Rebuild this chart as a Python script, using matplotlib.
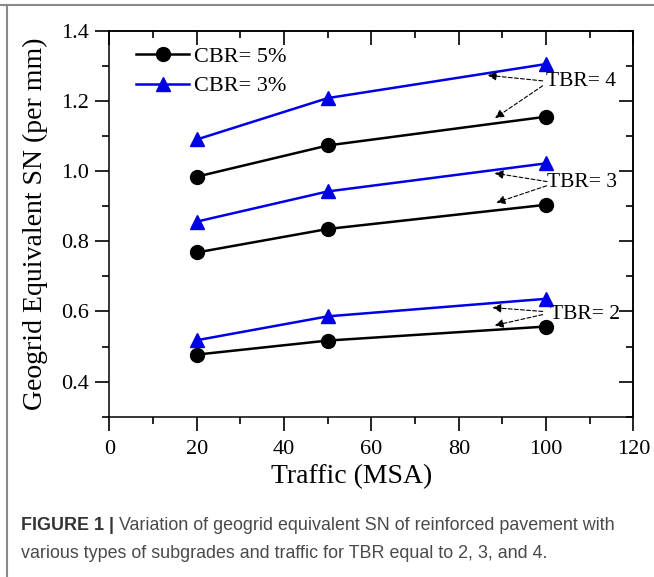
import matplotlib
matplotlib.use('Agg')
import matplotlib.pyplot as plt
from matplotlib.ticker import MultipleLocator, NullFormatter
from matplotlib.lines import Line2D

# traffic (MSA)
traffic = [20, 50, 100]
# geogrid equivalent SN (per mm)
cbr5_tbr4 = [0.984, 1.073, 1.155]
cbr3_tbr4 = [1.090, 1.208, 1.305]
cbr5_tbr3 = [0.768, 0.835, 0.904]
cbr3_tbr3 = [0.856, 0.942, 1.022]
cbr5_tbr2 = [0.477, 0.517, 0.557]
cbr3_tbr2 = [0.518, 0.586, 0.636]

series_labels = ['CBR= 5%', 'CBR= 3%']

# TBR labels and where their arrows point
tbr_labels = ['TBR= 4', 'TBR= 3', 'TBR= 2']
tbr_text_xy = [(100.0, 1.255), (100.3, 0.966), (100.8, 0.591)]
tbr_arrow_from = [[(99.2, 1.257), (99.2, 1.243)],
                  [(100.2, 0.970), (100.1, 0.958)],
                  [(99.2, 0.600), (99.2, 0.591)]]
tbr_arrow_to = [[(86.6, 1.273), (88.3, 1.151)],
                [(88.2, 0.994), (88.6, 0.910)],
                [(87.7, 0.611), (88.2, 0.560)]]

caption_bold = 'FIGURE 1 |'
caption_line1 = ' Variation of geogrid equivalent SN of reinforced pavement with'
caption_line2 = 'various types of subgrades and traffic for TBR equal to 2, 3, and 4.'

serif = 'Liberation Serif'
blue = '#0000e6'

fig = plt.figure(figsize=(6.54, 5.77), dpi=100)
fig.patch.set_facecolor('white')
ax = fig.add_axes([0.1674, 0.2778, 0.8012, 0.6690])

black_sets = [cbr5_tbr4, cbr5_tbr3, cbr5_tbr2]
blue_sets = [cbr3_tbr4, cbr3_tbr3, cbr3_tbr2]
for k in range(3):
    ax.plot(traffic, black_sets[k], '-o', color='black', lw=1.8, ms=10,
            label=series_labels[0] if k == 0 else None, zorder=3)
    ax.plot(traffic, blue_sets[k], '-^', color=blue, lw=1.8, ms=10.5,
            label=series_labels[1] if k == 0 else None, zorder=3)

for k in range(3):
    ax.text(tbr_text_xy[k][0], tbr_text_xy[k][1], tbr_labels[k], fontsize=15.5,
            family=serif, ha='left', va='center', zorder=4)
    for s, e in zip(tbr_arrow_from[k], tbr_arrow_to[k]):
        ax.annotate('', xy=e, xytext=s,
                    arrowprops=dict(arrowstyle='-|>', color='black', lw=0.8,
                                    ls=(0, (3.5, 2)), mutation_scale=13,
                                    shrinkA=0, shrinkB=0))

ax.set_xlim(0, 120)
ax.set_ylim(0.3, 1.4)
ax.xaxis.set_major_locator(MultipleLocator(20))
ax.xaxis.set_minor_locator(MultipleLocator(10))
ax.yaxis.set_major_locator(MultipleLocator(0.2))
ax.yaxis.set_minor_locator(MultipleLocator(0.1))
ax.yaxis.set_major_formatter(plt.FormatStrFormatter('%.1f'))
ax.tick_params(which='major', direction='out', length=10, width=1.2, labelsize=16, pad=5)
ax.tick_params(axis='x', which='major', pad=7)
ax.tick_params(which='minor', direction='out', length=5, width=1.2)
for lab in ax.get_xticklabels() + ax.get_yticklabels():
    lab.set_family(serif)
for sp in ax.spines.values():
    sp.set_linewidth(1.1)

# mirrored ticks on top and right, pointing inward
top = ax.secondary_xaxis('top')
top.xaxis.set_major_locator(MultipleLocator(20))
top.xaxis.set_minor_locator(MultipleLocator(10))
top.xaxis.set_major_formatter(NullFormatter())
top.tick_params(which='major', direction='in', length=10, width=1.2)
top.tick_params(which='minor', direction='in', length=5, width=1.2)
right = ax.secondary_yaxis('right')
right.yaxis.set_major_locator(MultipleLocator(0.2))
right.yaxis.set_minor_locator(MultipleLocator(0.1))
right.yaxis.set_major_formatter(NullFormatter())
right.tick_params(which='major', direction='in', length=10, width=1.2)
right.tick_params(which='minor', direction='in', length=5, width=1.2)
top.spines['top'].set_linewidth(1.1)
right.spines['right'].set_linewidth(1.1)

ax.set_xlabel('Traffic (MSA)', fontsize=20, family=serif)
ax.set_ylabel('Geogrid Equivalent SN (per mm)', fontsize=20, family=serif)
ax.xaxis.set_label_coords(0.462, -0.122)
ax.yaxis.set_label_coords(-0.118, 0.5)

leg = ax.legend(loc='upper left', bbox_to_anchor=(0.025, 0.995), frameon=False,
                prop={'family': serif, 'size': 16}, handlelength=2.4,
                handletextpad=0.2, labelspacing=0.42, borderaxespad=0.2)

# frame lines of the figure panel
fig.add_artist(Line2D([0, 1], [1 - 4.5 / 577, 1 - 4.5 / 577], color='#8a8a8a', lw=1.5))
fig.add_artist(Line2D([7.3 / 654, 7.3 / 654], [0, 1 - 4.5 / 577], color='#8a8a8a', lw=1.5))

# caption
cap_font = 'Liberation Sans'
cap_size = 12.9
y1 = 1 - 526 / 577
y2 = 1 - 553 / 577
t1 = fig.text(21 / 654, y1, caption_bold, fontsize=cap_size, family=cap_font,
              weight='bold', color='#333333', va='center', ha='left')
fig.canvas.draw()
bb = t1.get_window_extent()
fig.text(bb.x1 / fig.bbox.width, y1, caption_line1, fontsize=cap_size,
         family=cap_font, color='#4a4a4a', va='center', ha='left')
fig.text(21 / 654, y2, caption_line2, fontsize=cap_size, family=cap_font,
         color='#4a4a4a', va='center', ha='left')

fig.savefig('out.png', dpi=100)
